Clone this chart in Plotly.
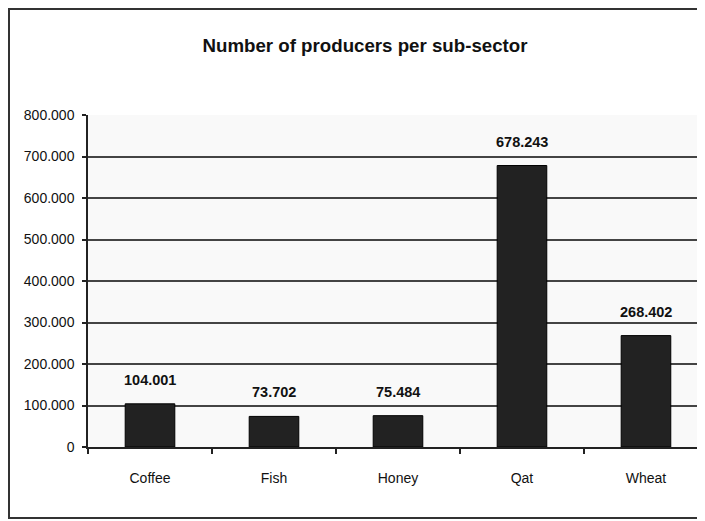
import plotly.graph_objects as go

categories = ["Coffee", "Fish", "Honey", "Qat", "Wheat"]
producers = [104001, 73702, 75484, 678243, 268402]
value_labels = ["104.001", "73.702", "75.484", "678.243", "268.402"]
y_tick_values = [0, 100000, 200000, 300000, 400000, 500000, 600000, 700000, 800000]

FONT = "Liberation Sans Narrow, Arial Narrow, Liberation Sans, Arial, sans-serif"

# figure is placed by the page with an 8px body margin, so it is 8px smaller
W, H = 697, 513

fig = go.Figure()
fig.add_trace(go.Bar(
    x=categories,
    y=producers,
    width=0.4,
    marker=dict(color="#222222", line=dict(color="#000000", width=1)),
    hoverinfo="skip",
))

for c, v, t in zip(categories, producers, value_labels):
    fig.add_annotation(x=c, y=v, text="<b>" + t + "</b>", showarrow=False, yanchor="bottom",
                       yshift=14, font=dict(family=FONT, size=14.5, color="#111111"))

fig.update_layout(
    width=W, height=H,
    margin=dict(l=80, r=0, t=107, b=74),
    paper_bgcolor="white",
    plot_bgcolor="#f9f9f9",
    separators=",.",
    showlegend=False,
    title=dict(text="<b>Number of producers per sub-sector</b>", x=357 / W, xanchor="center",
               y=1 - 37 / H, yanchor="middle", yref="container",
               font=dict(family=FONT, size=18.7, color="#111111")),
    font=dict(family=FONT, color="#111111"),
)
fig.update_xaxes(
    range=[-0.5, 4.476], showgrid=False, showline=True, linecolor="#222222", linewidth=1.5,
    ticks="outside", tickson="boundaries", ticklen=5, tickcolor="#222222", tickwidth=1.5,
    tickfont=dict(family=FONT, size=14, color="#111111"), ticklabelstandoff=17,
    fixedrange=True,
)
fig.update_yaxes(
    range=[0, 800000], tickvals=y_tick_values, tickformat=",d",
    showgrid=True, gridcolor="#444444", gridwidth=2,
    showline=True, linecolor="#222222", linewidth=1.5,
    ticks="outside", ticklen=4, tickcolor="#222222", tickwidth=1.5,
    tickfont=dict(family=FONT, size=14, color="#111111"), ticklabelstandoff=5,
    zeroline=False, fixedrange=True,
)

# outer chart frame
fig.add_shape(type="rect", xref="paper", yref="paper",
              x0=(1 - 80) / 617, x1=1.05, y0=(439 - 510) / 332, y1=(439 - 1) / 332,
              line=dict(color="#333333", width=2), fillcolor="rgba(0,0,0,0)", layer="above")

fig.write_html("out.html")
